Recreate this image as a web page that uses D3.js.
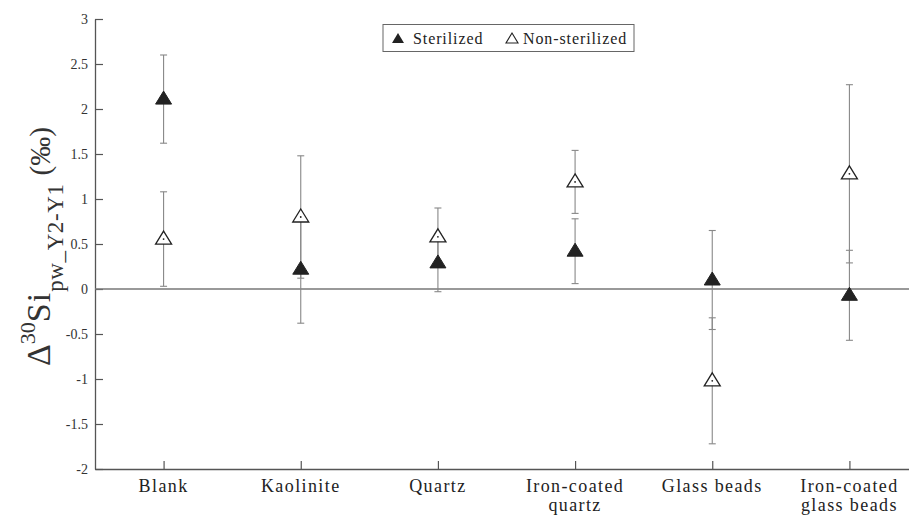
<!DOCTYPE html>
<html>
<head>
<meta charset="utf-8">
<script src="https://cdn.jsdelivr.net/npm/d3@7"></script>
<style>
  body { margin: 0; background: #fff; }
  svg text { font-family: "Liberation Serif", "DejaVu Serif", serif; }
</style>
</head>
<body>
<div id="chart"></div>
<script>
// data
const categories = ["Blank", "Kaolinite", "Quartz", "Iron-coated\nquartz", "Glass beads", "Iron-coated\nglass beads"];
const sterMean = [2.11, 0.22, 0.29, 0.42, 0.1, -0.07];
const sterErr = [0.49, 0.6, 0.32, 0.36, 0.55, 0.5];
const nonMean = [0.555, 0.8, 0.58, 1.19, -1.02, 1.28];
const nonErr = [0.525, 0.68, 0.32, 0.35, 0.7, 0.99];
const yTicks = [-2, -1.5, -1, -0.5, 0, 0.5, 1, 1.5, 2, 2.5, 3];

const width = 909, height = 516;
const serif = "Liberation Serif, DejaVu Serif, serif";

const svg = d3.select("#chart").append("svg")
    .attr("width", width)
    .attr("height", height);

const x = d3.scaleLinear().domain([0.5, 6.5]).range([95, 918]);
const y = d3.scaleLinear().domain([-2, 3]).range([469, 19]);

const axisColor = "#555";

// y axis, ticks pointing inward
const yAxis = svg.append("g")
    .attr("transform", `translate(${x(0.5)},0)`)
    .attr("font-family", serif)
    .call(d3.axisLeft(y).tickValues(yTicks).tickSizeInner(-8).tickSizeOuter(0).tickPadding(7)
        .tickFormat(d => String(d)));
yAxis.attr("font-family", serif).attr("font-size", 14);
yAxis.select(".domain").attr("stroke", axisColor).attr("stroke-width", 1.3);
yAxis.selectAll(".tick line").attr("stroke", axisColor).attr("stroke-width", 1.2);
yAxis.selectAll(".tick text").attr("fill", "#333").attr("font-family", serif);

// x axis at bottom
const xAxis = svg.append("g")
    .attr("transform", `translate(0,${y(-2)})`)
    .call(d3.axisBottom(x).tickValues(d3.range(1, categories.length + 1)).tickSizeInner(-8).tickSizeOuter(0).tickFormat(""));
xAxis.select(".domain").attr("stroke", axisColor).attr("stroke-width", 1.3);
xAxis.selectAll(".tick line").attr("stroke", axisColor).attr("stroke-width", 1.2);

// category labels (split on newline)
categories.forEach((c, i) => {
    const t = svg.append("text")
        .attr("x", x(i + 1))
        .attr("y", y(-2) + 23)
        .attr("text-anchor", "middle")
        .attr("fill", "#222")
        .attr("font-family", serif)
        .attr("font-size", 18)
        .attr("letter-spacing", 1.4);
    c.split("\n").forEach((line, j) => {
        t.append("tspan").attr("x", x(i + 1)).attr("dy", j === 0 ? 0 : 18.5).text(line);
    });
});

// zero line
svg.append("line")
    .attr("x1", x(0.5)).attr("x2", width)
    .attr("y1", y(0)).attr("y2", y(0))
    .attr("stroke", "#777").attr("stroke-width", 1.3);

// error bars
function errorBars(means, errs) {
    const g = svg.append("g").attr("stroke", "#888").attr("stroke-width", 1.1);
    means.forEach((m, i) => {
        const cx = x(i + 1);
        g.append("line").attr("x1", cx).attr("x2", cx).attr("y1", y(m - errs[i])).attr("y2", y(m + errs[i]));
        [m - errs[i], m + errs[i]].forEach(v => {
            g.append("line").attr("x1", cx - 3.5).attr("x2", cx + 3.5).attr("y1", y(v)).attr("y2", y(v));
        });
    });
}
errorBars(sterMean, sterErr);
errorBars(nonMean, nonErr);

const tri = "M0,-8L8,5L-8,5Z";

// non-sterilized (hollow) markers
nonMean.forEach((m, i) => {
    svg.append("path").attr("d", tri)
        .attr("transform", `translate(${x(i + 1)},${y(m)})`)
        .attr("fill", "#fff").attr("stroke", "#222").attr("stroke-width", 1.3);
    svg.append("circle").attr("cx", x(i + 1)).attr("cy", y(m)).attr("r", 0.9).attr("fill", "#222");
});

// sterilized (filled) markers
sterMean.forEach((m, i) => {
    svg.append("path").attr("d", tri)
        .attr("transform", `translate(${x(i + 1)},${y(m)})`)
        .attr("fill", "#222").attr("stroke", "#222").attr("stroke-width", 1);
});

// legend
const lg = svg.append("g").attr("font-family", serif).attr("font-size", 16).attr("letter-spacing", 0.9);
lg.append("rect").attr("x", 383).attr("y", 24.5).attr("width", 251).attr("height", 27)
    .attr("fill", "#fff").attr("stroke", "#666").attr("stroke-width", 1);
lg.append("path").attr("d", "M0,-6L6,4L-6,4Z").attr("transform", "translate(398,39)").attr("fill", "#222");
lg.append("text").attr("x", 413).attr("y", 44).attr("fill", "#222").text("Sterilized");
lg.append("path").attr("d", "M0,-6L6,4L-6,4Z").attr("transform", "translate(512,39)")
    .attr("fill", "none").attr("stroke", "#222").attr("stroke-width", 1.1);
lg.append("text").attr("x", 523).attr("y", 44).attr("fill", "#222").text("Non-sterilized");

// y axis label
const yl = svg.append("text")
    .attr("transform", "translate(50,366) rotate(-90)")
    .attr("fill", "#333")
    .attr("font-family", serif);
yl.append("tspan").attr("font-size", 34).text("Δ");
yl.append("tspan").attr("font-size", 22).attr("dy", -15).text("30");
yl.append("tspan").attr("font-size", 34).attr("dy", 15).attr("letter-spacing", 1).text("Si");
yl.append("tspan").attr("font-size", 23).attr("dy", 13).attr("letter-spacing", 0.6).text("pw_Y2-Y1");
yl.append("tspan").attr("font-size", 29).attr("dy", -13).attr("dx", 8).text("(‰)");
</script>
</body>
</html>
